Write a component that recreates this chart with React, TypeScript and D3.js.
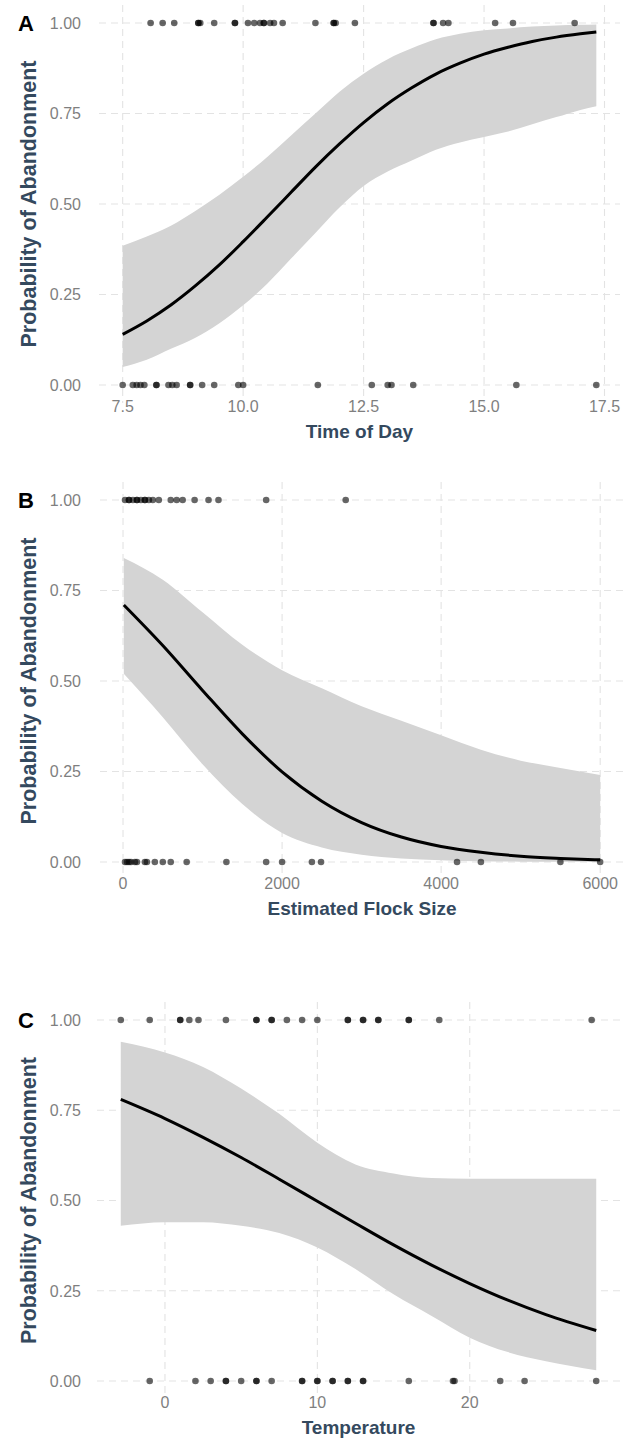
import React from 'react';
import * as d3 from 'd3';

// ---------- shared ----------
const yTicks = [0, 0.25, 0.5, 0.75, 1];
const yTickLabels = ['0.00', '0.25', '0.50', '0.75', '1.00'];
const yTitle = 'Probability of Abandonment';

// ---------- Panel A: Time of Day ----------
const timeTicks = [7.5, 10, 12.5, 15, 17.5];
const timeTickLabels = ['7.5', '10.0', '12.5', '15.0', '17.5'];
const timeAbandoned = [8.08, 8.33, 8.57, 9.07, 9.07, 9.11, 9.4, 9.83, 9.83, 10.1, 10.23, 10.35, 10.43, 10.43, 10.56, 10.64, 10.82, 11.5, 11.88, 11.88, 11.92, 12.32, 13.95, 13.95, 14.15, 14.26, 15.23, 15.6, 16.88];
const timeStayed = [7.5, 7.71, 7.79, 7.87, 7.95, 8.2, 8.2, 8.45, 8.53, 8.62, 8.9, 8.9, 9.15, 9.4, 9.9, 10.0, 11.55, 12.67, 13.0, 13.08, 13.53, 15.67, 17.33];
const timeGrid = [7.5, 8, 8.5, 9, 9.5, 10, 10.5, 11, 11.5, 12, 12.5, 13, 13.5, 14, 14.5, 15, 15.5, 16, 16.5, 17, 17.33];
const timeFit = [0.14, 0.177, 0.221, 0.273, 0.331, 0.396, 0.464, 0.533, 0.602, 0.666, 0.725, 0.777, 0.821, 0.859, 0.889, 0.914, 0.933, 0.949, 0.961, 0.97, 0.975];
const timeUpper = [0.385, 0.41, 0.44, 0.48, 0.525, 0.575, 0.63, 0.69, 0.75, 0.81, 0.86, 0.9, 0.93, 0.955, 0.97, 0.98, 0.985, 0.99, 0.993, 0.995, 0.996];
const timeLower = [0.05, 0.07, 0.1, 0.13, 0.17, 0.22, 0.28, 0.35, 0.42, 0.49, 0.55, 0.59, 0.62, 0.65, 0.67, 0.685, 0.7, 0.72, 0.74, 0.76, 0.77];

// ---------- Panel B: Estimated Flock Size ----------
const flockTicks = [0, 2000, 4000, 6000];
const flockTickLabels = ['0', '2000', '4000', '6000'];
const flockAbandoned = [25, 75, 75, 125, 175, 175, 225, 275, 275, 325, 375, 450, 600, 675, 750, 900, 1075, 1200, 1800, 2800];
const flockStayed = [25, 50, 75, 100, 150, 175, 275, 300, 400, 500, 600, 800, 1300, 1800, 2000, 2375, 2490, 4200, 4500, 5500, 6000];
const flockGrid = [10, 500, 1000, 1500, 2000, 2500, 3000, 3500, 4000, 4500, 5000, 5500, 6000];
const flockFit = [0.71, 0.598, 0.474, 0.354, 0.249, 0.168, 0.109, 0.069, 0.043, 0.027, 0.016, 0.01, 0.006];
const flockUpper = [0.84, 0.78, 0.69, 0.6, 0.53, 0.48, 0.43, 0.39, 0.35, 0.31, 0.28, 0.26, 0.24];
const flockLower = [0.52, 0.4, 0.27, 0.16, 0.08, 0.04, 0.02, 0.01, 0.005, 0.002, 0.001, 0.0005, 0];

// ---------- Panel C: Temperature ----------
const tempTicks = [0, 10, 20];
const tempTickLabels = ['0', '10', '20'];
const tempAbandoned = [-2.9, -1, 1, 1, 1.6, 2.2, 4, 6, 6, 7, 7, 8, 9, 10, 12, 12, 13, 13, 14, 14, 16, 16, 18, 28];
const tempStayed = [-1, 2, 3, 4, 4, 5, 6, 6, 7, 9, 9, 10, 10, 11, 11, 12, 12, 13, 13, 16, 18.9, 19, 22, 23.6, 28.3];
const tempGrid = [-2.9, 0, 2.5, 5, 7.5, 10, 12.5, 15, 17.5, 20, 22.5, 25, 28.3];
const tempFit = [0.78, 0.727, 0.675, 0.619, 0.559, 0.498, 0.437, 0.377, 0.321, 0.27, 0.224, 0.184, 0.14];
const tempUpper = [0.94, 0.91, 0.87, 0.81, 0.74, 0.66, 0.6, 0.575, 0.562, 0.56, 0.56, 0.56, 0.56];
const tempLower = [0.43, 0.44, 0.44, 0.43, 0.41, 0.37, 0.31, 0.24, 0.18, 0.12, 0.08, 0.055, 0.03];

type PanelDef = {
  tag: string;
  xTitle: string;
  ticks: number[];
  tickLabels: string[];
  abandoned: number[];
  stayed: number[];
  grid: number[];
  fit: number[];
  upper: number[];
  lower: number[];
  top: number; // pixel of y = 1
  height: number; // pixels from y = 1 to y = 0
  left: number;
  right: number;
};

const panels: PanelDef[] = [
  { tag: 'A', xTitle: 'Time of Day', ticks: timeTicks, tickLabels: timeTickLabels, abandoned: timeAbandoned, stayed: timeStayed, grid: timeGrid, fit: timeFit, upper: timeUpper, lower: timeLower, top: 23, height: 362, left: 99, right: 620 },
  { tag: 'B', xTitle: 'Estimated Flock Size', ticks: flockTicks, tickLabels: flockTickLabels, abandoned: flockAbandoned, stayed: flockStayed, grid: flockGrid, fit: flockFit, upper: flockUpper, lower: flockLower, top: 500, height: 362, left: 100, right: 624 },
  { tag: 'C', xTitle: 'Temperature', ticks: tempTicks, tickLabels: tempTickLabels, abandoned: tempAbandoned, stayed: tempStayed, grid: tempGrid, fit: tempFit, upper: tempUpper, lower: tempLower, top: 1020, height: 361, left: 97, right: 620 },
];

const W = 623;
const H = 1439;
const FONT = '"Liberation Sans", Arial, Helvetica, sans-serif';
const GRID = '#e3e3e3';
const TICK_COL = '#7f7f7f';
const TITLE_COL = '#34495e';

function Panel({ p }: { p: PanelDef }) {
  const all = [...p.abandoned, ...p.stayed, ...p.grid];
  const [mn, mx] = d3.extent(all) as [number, number];
  const pad = (mx - mn) * 0.05;
  const x = d3.scaleLinear().domain([mn - pad, mx + pad]).range([p.left, p.right]);
  const y = d3.scaleLinear().domain([0, 1]).range([p.top + p.height, p.top]);
  const yPad = p.height * 0.05;
  const panelTop = p.top - yPad;
  const panelBottom = p.top + p.height + yPad;

  const rows = p.grid.map((g, i) => ({ g, f: p.fit[i], u: p.upper[i], l: p.lower[i] }));
  const area = d3
    .area<typeof rows[number]>()
    .x((d) => x(d.g))
    .y0((d) => y(d.l))
    .y1((d) => y(d.u))
    .curve(d3.curveMonotoneX);
  const line = d3
    .line<typeof rows[number]>()
    .x((d) => x(d.g))
    .y((d) => y(d.f))
    .curve(d3.curveMonotoneX);

  const y0 = y(0);
  return (
    <g>
      {yTicks.map((t) => (
        <line key={'gy' + t} x1={p.left} x2={p.right} y1={y(t)} y2={y(t)} stroke={GRID} strokeWidth={1.1} strokeDasharray="7,5" />
      ))}
      {p.ticks.map((t) => (
        <line key={'gx' + t} x1={x(t)} x2={x(t)} y1={panelTop} y2={panelBottom} stroke={GRID} strokeWidth={1.1} strokeDasharray="7,5" />
      ))}
      <path d={area(rows) || ''} fill="#d4d4d4" />
      <path d={line(rows) || ''} fill="none" stroke="#000" strokeWidth={3} />
      {p.abandoned.map((v, i) => (
        <circle key={'a' + i} cx={x(v)} cy={y(1)} r={3.3} fill="#000" fillOpacity={0.6} />
      ))}
      {p.stayed.map((v, i) => (
        <circle key={'s' + i} cx={x(v)} cy={y(0)} r={3.3} fill="#000" fillOpacity={0.6} />
      ))}
      {yTicks.map((t, i) => (
        <text key={'ty' + t} x={81} y={y(t)} dy="0.36em" textAnchor="end" fontSize={16} fill={TICK_COL} fontFamily={FONT}>
          {yTickLabels[i]}
        </text>
      ))}
      {p.ticks.map((t, i) => (
        <text key={'tx' + t} x={x(t)} y={y0 + 21} dy="0.36em" textAnchor="middle" fontSize={16} fill={TICK_COL} fontFamily={FONT}>
          {p.tickLabels[i]}
        </text>
      ))}
      <text x={(p.left + p.right) / 2} y={y0 + 46} dy="0.36em" textAnchor="middle" fontSize={19} fontWeight="bold" fill={TITLE_COL} fontFamily={FONT}>
        {p.xTitle}
      </text>
      <text transform={`translate(28,${(y(0) + y(1)) / 2}) rotate(-90)`} dy="0.36em" textAnchor="middle" fontSize={21.5} fontWeight="bold" fill={TITLE_COL} fontFamily={FONT}>
        {yTitle}
      </text>
      <text x={18} y={y(1)} dy="0.36em" fontSize={22} fontWeight="bold" fill="#000" fontFamily={FONT}>
        {p.tag}
      </text>
    </g>
  );
}

export default function App() {
  return (
    <svg width={W} height={H} viewBox={`0 0 ${W} ${H}`} style={{ position: 'absolute', left: 0, top: 0, display: 'block', background: '#fff' }}>
      <rect width={W} height={H} fill="#fff" />
      {panels.map((p) => (
        <Panel key={p.tag} p={p} />
      ))}
    </svg>
  );
}
